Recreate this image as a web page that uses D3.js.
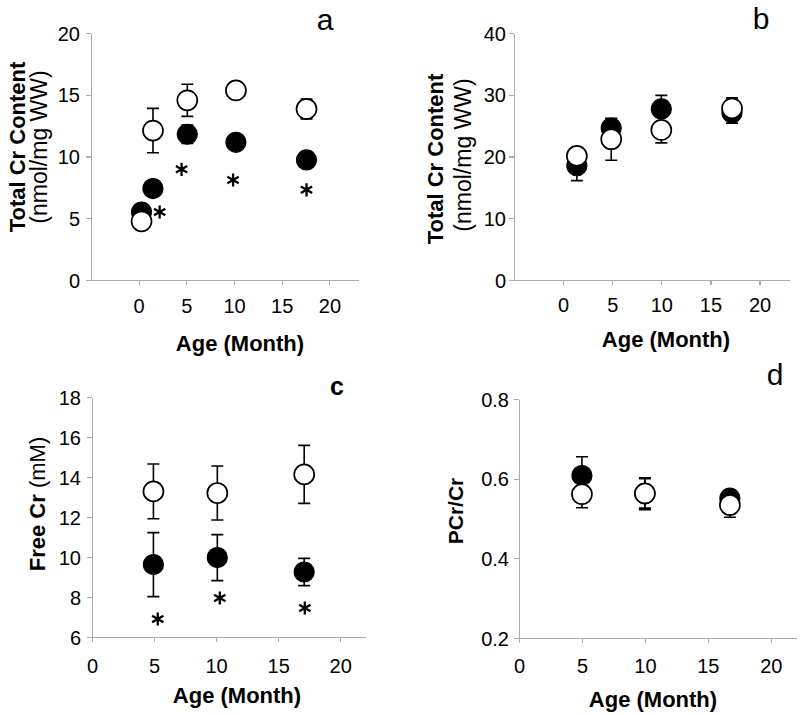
<!DOCTYPE html>
<html><head><meta charset="utf-8">
<script src="https://cdn.jsdelivr.net/npm/d3@7"></script>
<style>
body{margin:0;background:#fff}
svg{display:block}
text{font-family:"Liberation Sans",Arial,Helvetica,sans-serif;fill:#000}
</style>
</head><body>
<svg id="chart" width="800" height="715"></svg>
<script>
// ---------- data ----------
const xTickValues = [0, 5, 10, 15, 20];

// Panel a: Total Cr content (nmol/mg WW)
const aAge       = [0.3, 1.5, 5.1, 10.2, 17.6];
const aOpenMean  = [4.75, 12.1, 14.55, 15.35, 13.85];
const aOpenSE    = [0.3, 1.8, 1.3, 0.5, 0.8];
const aFillMean  = [5.5, 7.4, 11.8, 11.15, 9.72];
const aFillSE    = [0.3, 0.4, 0.75, 0.5, 0.5];
const aStarAge   = [2.2, 4.5, 9.9, 17.6];
const aStarVal   = [5.5, 8.96, 8.1, 7.3];
const aYTicks    = [0, 5, 10, 15, 20];

// Panel b: Total Cr content (nmol/mg WW)
const bAge       = [1.4, 4.9, 10.0, 17.2];
const bOpenMean  = [20.1, 22.8, 24.3, 27.8];
const bOpenSE    = [0.8, 3.4, 2.1, 1.7];
const bFillMean  = [18.5, 24.6, 27.7, 27.1];
const bFillSE    = [2.4, 1.5, 2.2, 1.7];
const bYTicks    = [0, 10, 20, 30, 40];

// Panel c: Free Cr (mM)
const cAge       = [4.95, 10.1, 17.1];
const cOpenMean  = [13.28, 13.2, 14.13];
const cOpenSE    = [1.37, 1.35, 1.45];
const cFillMean  = [9.62, 9.97, 9.25];
const cFillSE    = [1.6, 1.15, 0.68];
const cStarAge   = [5.3, 10.3, 17.15];
const cStarVal   = [6.9, 7.95, 7.45];
const cYTicks    = [6, 8, 10, 12, 14, 16, 18];

// Panel d: PCr/Cr
const dAge       = [5.0, 10.0, 16.75];
const dOpenMean  = [0.561, 0.563, 0.534];
const dOpenSE    = [0.034, 0.037, 0.031];
const dFillMean  = [0.608, 0.562, 0.551];
const dFillSE    = [0.047, 0.040, 0.016];
const dYTicks    = [0.2, 0.4, 0.6, 0.8];

// ---------- layout ----------
const svg = d3.select("#chart");
const AXIS_COLOR = "#ababab";
const R = 10;

const panels = [
  {label:"a", labelBold:false, labelX:325, labelY:30, labelSize:30,
   xDomain:[-5,23], xRange:[91,358], yDomain:[0,20], yRange:[280,33],
   yTicks:aYTicks, yFmt:d3.format("d"), yPad:6, xLabelY:313,
   age:aAge, open:aOpenMean, openSE:aOpenSE, fill:aFillMean, fillSE:aFillSE,
   starAge:aStarAge, starVal:aStarVal,
   xTitle:{x:240, y:351}, yTitle:{type:"two", x1:25, x2:47, y1:147, y2:147}},
  {label:"b", labelBold:false, labelX:761, labelY:28.5, labelSize:30,
   xDomain:[-5,23], xRange:[514,789], yDomain:[0,40], yRange:[280,33],
   yTicks:bYTicks, yFmt:d3.format("d"), yPad:3, xLabelY:312,
   age:bAge, open:bOpenMean, openSE:bOpenSE, fill:bFillMean, fillSE:bFillSE,
   starAge:[], starVal:[],
   xTitle:{x:666, y:347}, yTitle:{type:"two", x1:443, x2:471, y1:159, y2:155}},
  {label:"c", labelBold:true, labelX:337, labelY:395, labelSize:25,
   xDomain:[0,22], xRange:[92,365], yDomain:[6,18], yRange:[637,397],
   yTicks:cYTicks, yFmt:d3.format("d"), yPad:6, xLabelY:673,
   age:cAge, open:cOpenMean, openSE:cOpenSE, fill:cFillMean, fillSE:cFillSE,
   starAge:cStarAge, starVal:cStarVal,
   xTitle:{x:237, y:703}, yTitle:{type:"free", x:45, y:504}},
  {label:"d", labelBold:false, labelX:775, labelY:385, labelSize:30,
   xDomain:[0,22], xRange:[519,796], yDomain:[0.2,0.8], yRange:[638,399],
   yTicks:dYTicks, yFmt:d3.format(".1f"), yPad:5, xLabelY:673,
   age:dAge, open:dOpenMean, openSE:dOpenSE, fill:dFillMean, fillSE:dFillSE,
   starAge:[], starVal:[],
   xTitle:{x:653, y:707}, yTitle:{type:"pcr", x:463, y:511}}
];

const starType = d3.symbolAsterisk || d3.symbolCross;

panels.forEach(p => {
  const x = d3.scaleLinear().domain(p.xDomain).range(p.xRange);
  const y = d3.scaleLinear().domain(p.yDomain).range(p.yRange);
  const g = svg.append("g");

  // x axis
  const xa = g.append("g")
    .attr("transform", `translate(0,${p.yRange[0]})`)
    .call(d3.axisBottom(x).tickValues(xTickValues).tickSize(5).tickSizeOuter(0).tickPadding(6).tickFormat(d3.format("d")));
  xa.select(".domain").attr("stroke", AXIS_COLOR).attr("stroke-width", 1.2);
  xa.selectAll(".tick line").attr("stroke", AXIS_COLOR).attr("stroke-width", 1.2);
  xa.selectAll(".tick text").attr("font-size", 20).attr("fill", "#000")
    .attr("y", p.xLabelY - p.yRange[0]).attr("dy", 0);

  // y axis
  const ya = g.append("g")
    .attr("transform", `translate(${p.xRange[0]},0)`)
    .call(d3.axisLeft(y).tickValues(p.yTicks).tickSize(5).tickSizeOuter(0).tickPadding(p.yPad).tickFormat(p.yFmt));
  ya.select(".domain").attr("stroke", AXIS_COLOR).attr("stroke-width", 1.2);
  ya.selectAll(".tick line").attr("stroke", AXIS_COLOR).attr("stroke-width", 1.2);
  ya.selectAll(".tick text").attr("font-size", 20).attr("fill", "#000").attr("dy", "0.36em");
  g.selectAll(".domain, .tick line").attr("shape-rendering", "crispEdges");

  // error bars
  const bars = [];
  p.age.forEach((a, i) => {
    bars.push({a, m:p.fill[i], s:p.fillSE[i]});
    bars.push({a, m:p.open[i], s:p.openSE[i]});
  });
  const eb = g.append("g").attr("stroke", "#000").attr("stroke-width", 1.6).attr("fill", "none");
  eb.selectAll("path").data(bars).join("path")
    .attr("d", d => {
      const cx = x(d.a), y1 = y(d.m + d.s), y2 = y(d.m - d.s), w = 6;
      return `M${cx},${y1}V${y2}M${cx-w},${y1}H${cx+w}M${cx-w},${y2}H${cx+w}`;
    });

  // filled markers
  g.append("g").selectAll("circle").data(p.age.map((a, i) => ({a, m:p.fill[i]}))).join("circle")
    .attr("cx", d => x(d.a)).attr("cy", d => y(d.m)).attr("r", R)
    .attr("fill", "#000").attr("stroke", "#000").attr("stroke-width", 1.2);

  // open markers
  g.append("g").selectAll("circle").data(p.age.map((a, i) => ({a, m:p.open[i]}))).join("circle")
    .attr("cx", d => x(d.a)).attr("cy", d => y(d.m)).attr("r", R)
    .attr("fill", "#fff").attr("stroke", "#000").attr("stroke-width", 1.7);

  // asterisks (significance)
  g.append("g").selectAll("path").data(p.starAge.map((a, i) => ({a, v:p.starVal[i]}))).join("path")
    .attr("transform", d => `translate(${x(d.a)},${y(d.v)})`)
    .attr("d", d3.symbol().type(starType).size(120))
    .attr("fill", "none").attr("stroke", "#000").attr("stroke-width", 2.3);

  // panel label
  g.append("text").attr("x", p.labelX).attr("y", p.labelY).attr("text-anchor", "middle")
    .attr("font-size", p.labelSize).attr("font-weight", p.labelBold ? "bold" : "normal").text(p.label);

  // x title
  g.append("text").attr("x", p.xTitle.x).attr("y", p.xTitle.y).attr("text-anchor", "middle")
    .attr("font-size", 22).attr("font-weight", "bold").text("Age (Month)");

  // y title
  const t = p.yTitle;
  if (t.type === "two") {
    g.append("text").attr("transform", `translate(${t.x1},${t.y1}) rotate(-90)`).attr("text-anchor", "middle")
      .attr("font-size", 22).attr("font-weight", "bold").text("Total Cr Content");
    g.append("text").attr("transform", `translate(${t.x2},${t.y2}) rotate(-90)`).attr("text-anchor", "middle")
      .attr("font-size", 23).text("(nmol/mg WW)");
  } else if (t.type === "free") {
    const tt = g.append("text").attr("transform", `translate(${t.x},${t.y}) rotate(-90)`).attr("text-anchor", "middle")
      .attr("font-size", 22);
    tt.append("tspan").attr("font-weight", "bold").text("Free Cr");
    tt.append("tspan").text(" (mM)");
  } else {
    g.append("text").attr("transform", `translate(${t.x},${t.y}) rotate(-90)`).attr("text-anchor", "middle")
      .attr("font-size", 21).attr("font-weight", "bold").text("PCr/Cr");
  }
});
</script>
</body></html>
